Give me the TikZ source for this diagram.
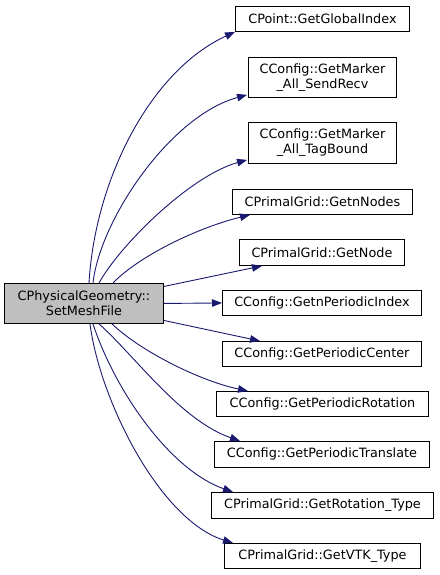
\documentclass[tikz,border=0pt]{standalone}
\usepackage{fontspec}
\setmainfont{DejaVu Sans}
\usetikzlibrary{arrows.meta,calc}
\definecolor{edgeblue}{HTML}{191970}
\definecolor{maingray}{HTML}{BFBFBF}
\begin{document}
\begin{tikzpicture}[x=1pt,y=-1pt,
  fbox/.style={draw=black,line width=0.9pt,fill=white,anchor=north west,inner sep=0pt,align=center,
    font=\fontsize{12.8}{15}\selectfont},
  mainbox/.style={fbox,fill=maingray},
  call/.style={draw=edgeblue,line width=0.9pt,-{Triangle[length=10pt,width=7.5pt]},edgeblue}]
\useasboundingbox (0,0) rectangle (439,575);
\fill[white] (0,0) rectangle (439,575);
\node[mainbox,minimum width=159pt,minimum height=40pt] (main) at (4,283) {CPhysicalGeometry::\\SetMeshFile};
\node[fbox,minimum width=174pt,minimum height=25pt] (n1) at (235,6) {CPoint::GetGlobalIndex};
\node[fbox,minimum width=148pt,minimum height=40pt] (n2) at (248,57) {CConfig::GetMarker\\\_All\_SendRecv};
\node[fbox,minimum width=148pt,minimum height=41pt] (n3) at (248,122) {CConfig::GetMarker\\\_All\_TagBound};
\node[fbox,minimum width=180pt,minimum height=25pt] (n4) at (232,189) {CPrimalGrid::GetnNodes};
\node[fbox,minimum width=165pt,minimum height=26pt] (n5) at (239,239) {CPrimalGrid::GetNode};
\node[fbox,minimum width=199pt,minimum height=25pt] (n6) at (222,290) {CConfig::GetnPeriodicIndex};
\node[fbox,minimum width=199pt,minimum height=25pt] (n7) at (222,341) {CConfig::GetPeriodicCenter};
\node[fbox,minimum width=212pt,minimum height=25pt] (n8) at (216,391) {CConfig::GetPeriodicRotation};
\node[fbox,minimum width=215pt,minimum height=26pt] (n9) at (214,441) {CConfig::GetPeriodicTranslate};
\node[fbox,minimum width=222pt,minimum height=26pt] (n10) at (211,492) {CPrimalGrid::GetRotation\_Type};
\node[fbox,minimum width=196pt,minimum height=25pt] (n11) at (224,543) {CPrimalGrid::GetVTK\_Type};
% start points on main
\coordinate (s1) at ($(main.north west)+(85,0)$);
\coordinate (s2) at ($(main.north west)+(89,0)$);
\coordinate (s3) at ($(main.north west)+(95,0)$);
\coordinate (s4) at ($(main.north west)+(109,0)$);
\coordinate (s5) at ($(main.east)+(0,-17)$);
\coordinate (s7) at ($(main.east)+(0,17)$);
\coordinate (s8) at ($(main.south west)+(108,0)$);
\coordinate (s9) at ($(main.south west)+(95,0)$);
\coordinate (s10) at ($(main.south west)+(89,0)$);
\coordinate (s11) at ($(main.south west)+(86,0)$);
% end points
\coordinate (t1) at (n1.south west);
\coordinate (t2) at ($(n2.south west)+(-1,-3)$);
\coordinate (t3) at ($(n3.south west)+(-1,-4)$);
\coordinate (t4) at ($(n4.south west)+(18,0)$);
\coordinate (t5) at ($(n5.south west)+(23,0)$);
\coordinate (t7) at ($(n7.north west)+(38,0)$);
\coordinate (t8) at ($(n8.north west)+(32,0)$);
\coordinate (t9) at ($(n9.north west)+(26,0)$);
\coordinate (t10) at ($(n10.north west)+(22,0)$);
\coordinate (t11) at ($(n11.north west)+(9,0)$);
\draw[call] (s1) .. controls +(6,-103) and +(-85,39) .. (t1);
\draw[call] (s2) .. controls +(7,-63) and +(-77,21) .. (t2);
\draw[call] (s3) .. controls +(21,-38) and +(-57,16) .. (t3);
\draw[call] (s4) .. controls +(27,-28) and +(-50,12) .. (t4);
\draw[call] (s5) -- (t5);
\draw[call] (main.east) -- (n6.west);
\draw[call] (s7) -- (t7);
\draw[call] (s8) .. controls +(28,27) and +(-48,-10) .. (t8);
\draw[call] (s9) .. controls +(36,32) and +(-60,-21) .. (t9);
\draw[call] (s10) .. controls +(22,67) and +(-63,-22) .. (t10);
\draw[call] (s11) .. controls +(10,77) and +(-73,-23) .. (t11);
\end{tikzpicture}
\end{document}
